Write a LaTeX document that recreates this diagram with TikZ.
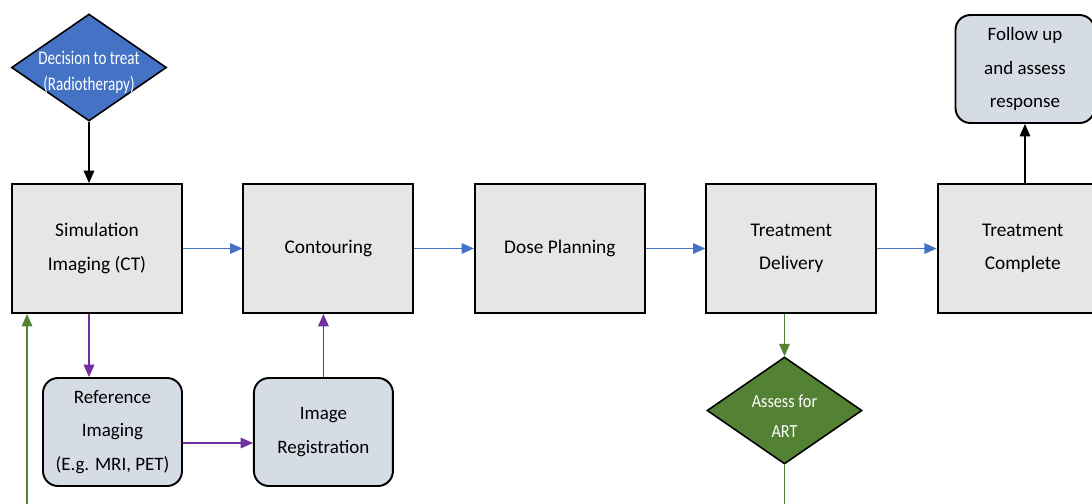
\documentclass[tikz,border=0pt]{standalone}
\usepackage{fontspec}
\setmainfont{Carlito}
\usepackage{tikz}
\usetikzlibrary{arrows.meta, positioning, shapes.geometric}
\definecolor{boxgray}{HTML}{E7E6E6}
\definecolor{boxblue}{HTML}{D6DCE5}
\definecolor{flowblue}{HTML}{4472C4}
\definecolor{flowpurple}{HTML}{7030A0}
\definecolor{flowgreen}{HTML}{548235}

\begin{document}
\begin{tikzpicture}[
        node distance = 1.19cm and 1.19cm,
        stage/.style = {rectangle, draw, line width=1.1pt, fill=boxgray, minimum width=3.4cm, minimum height=2.58cm, align=center, font=\fontsize{11}{19}\selectfont},
        sidebox/.style = {rectangle, draw, rounded corners=0.3cm, line width=1.1pt, fill=boxblue, minimum width=2.78cm, minimum height=2.16cm, align=center, font=\fontsize{10.8}{19}\selectfont},
        decision/.style = {diamond, draw, line width=0.9pt, inner sep=0pt, minimum width=3.1cm, minimum height=2.14cm},
        dlabel/.style = {text=white, align=center},
        edge/.style = {-{Triangle[length=7pt, width=6pt]}, line width=0.8pt}
    ]
    \useasboundingbox (0,0) rectangle (21.84,-10.06);
    \clip (0,0) rectangle (21.84,-10.06);

    \node[decision, fill=flowblue, label={[dlabel, font=\fontsize{11}{15}\selectfont, xscale=0.78, yshift=-0.1cm]center:{Decision to treat\\(Radiotherapy)}}] (dec) at (1.78,-1.35) {};
    \node[stage] (sim) at (1.94,-4.97) {Simulation\\Imaging (CT)};
    \node[stage, right=of sim] (cont) {Contouring};
    \node[stage, right=of cont] (dose) {Dose Planning};
    \node[stage, right=of dose] (deliv) {Treatment\\Delivery};
    \node[stage, right=of deliv] (done) {Treatment\\Complete};
    \node[sidebox] (followup) at (20.50,-1.38) {Follow up\\and assess\\response};
    \node[sidebox] (refimg) at (2.25,-8.64) {Reference\\Imaging\\(E.g. MRI, PET)};
    \node[sidebox, right=1.4cm of refimg] (reg) {Image\\Registration};
    \node[decision, fill=flowgreen, label={[dlabel, font=\fontsize{10.5}{17}\selectfont, xscale=0.88, yshift=-0.12cm]center:{Assess for\\ART}}] (art) at (15.69,-8.21) {};

    \draw[edge] (dec) -- (dec |- sim.north);
    \draw[edge, flowblue] (sim) -- (cont);
    \draw[edge, flowblue] (cont) -- (dose);
    \draw[edge, flowblue] (dose) -- (deliv);
    \draw[edge, flowblue] (deliv) -- (done);
    \draw[edge] (followup.south |- done.north) -- (followup.south);
    \draw[edge, flowpurple] (sim.south -| dec.south) -- (refimg.north -| dec.south);
    \draw[edge, flowpurple] ([yshift=-0.22cm]refimg.east) -- ([yshift=-0.22cm]reg.west);
    \draw[edge, flowpurple] (reg.north) -- (reg.north |- cont.south);
    \draw[edge, flowgreen] (art.north |- deliv.south) -- (art.north);
    \draw[edge, flowgreen] (art.south) -- ++(0,-1) -| ([xshift=0.32cm]sim.south west);
\end{tikzpicture}
\end{document}
